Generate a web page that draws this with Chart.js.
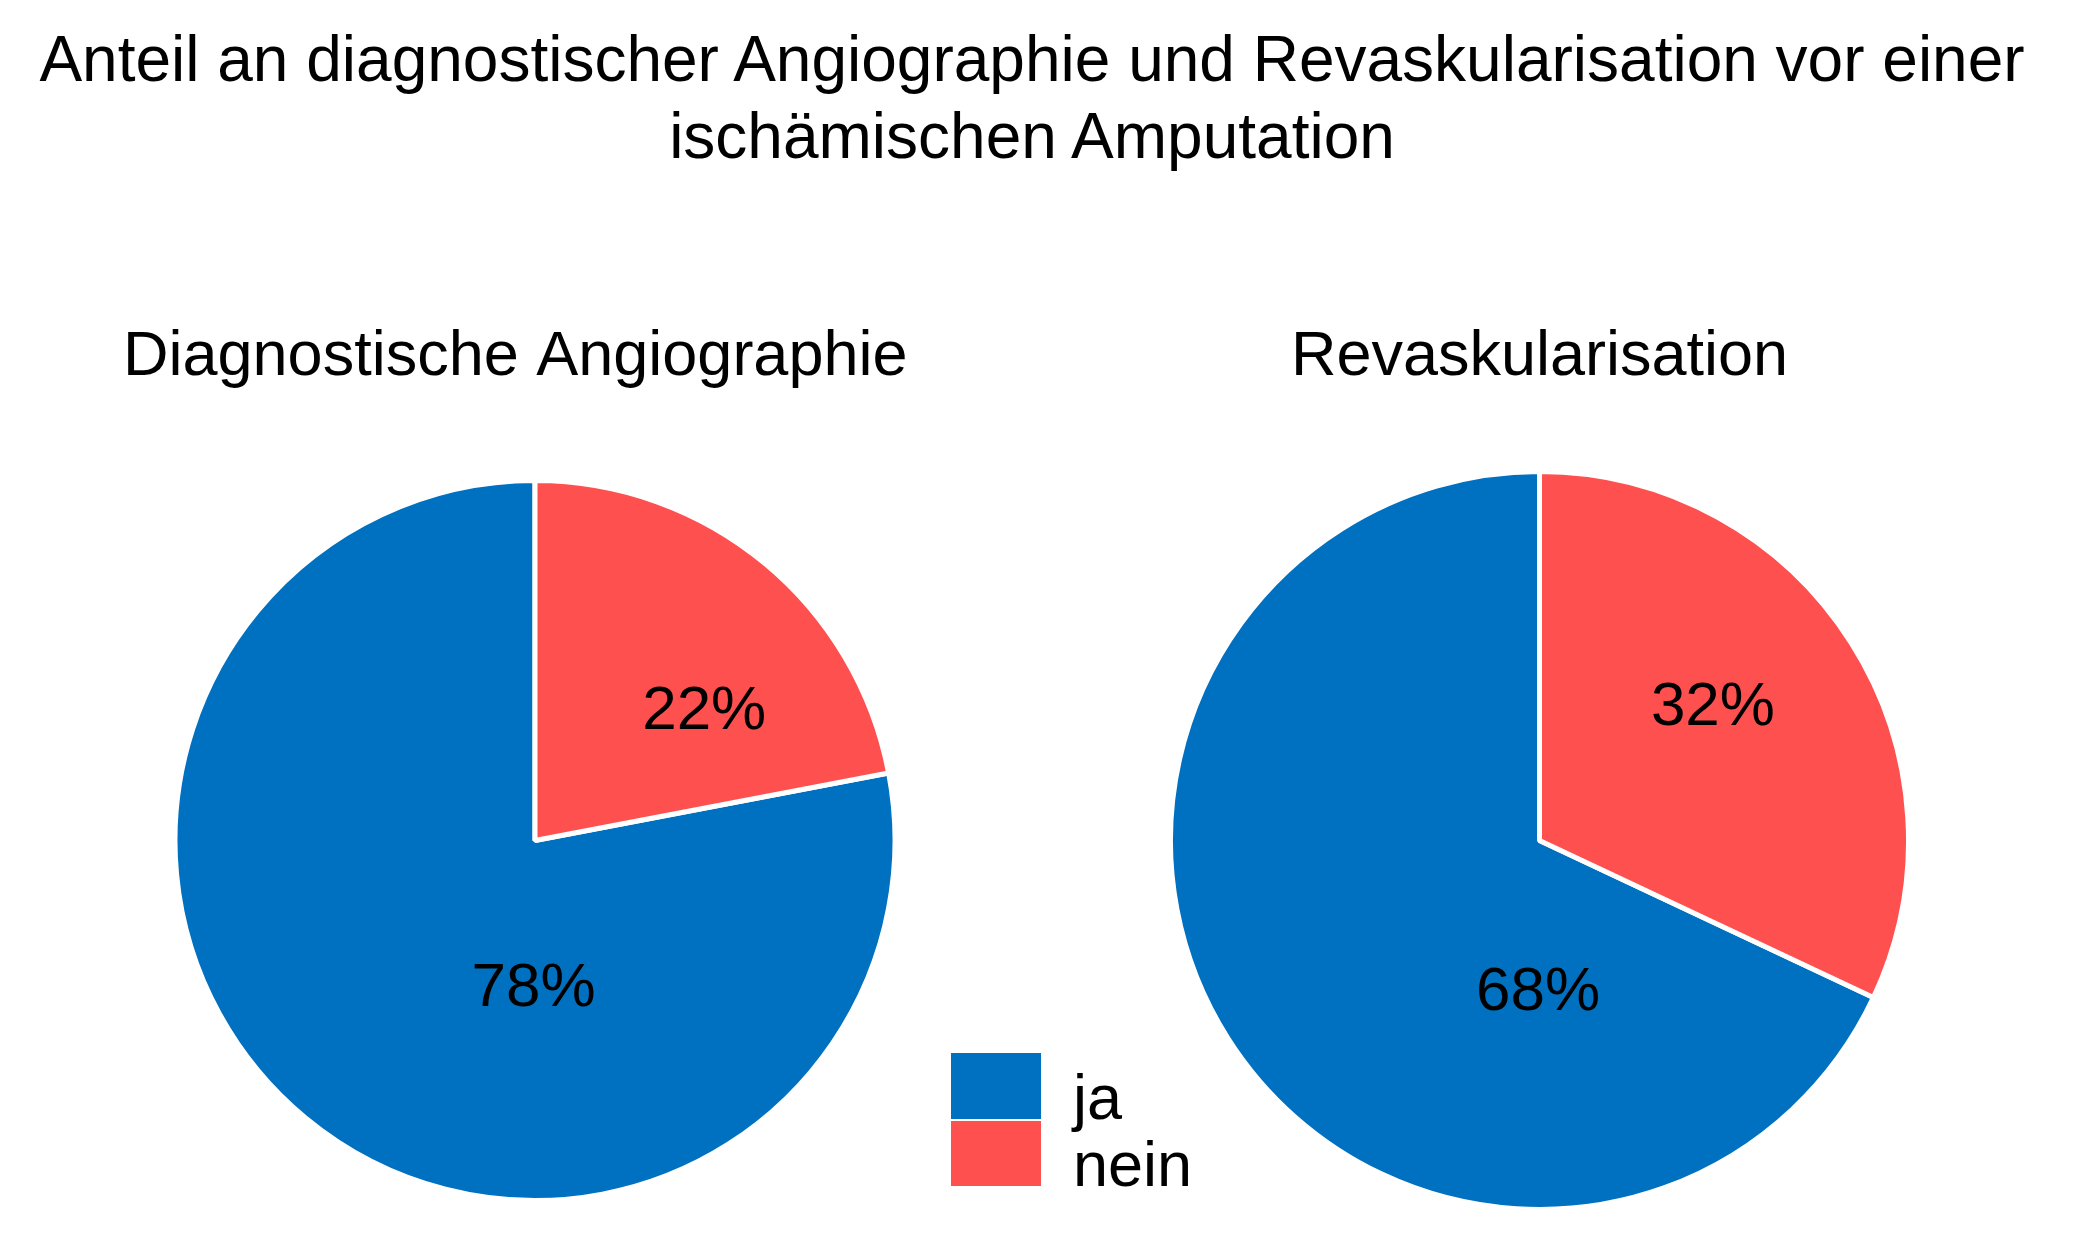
<!DOCTYPE html>
<html lang="de">
<head>
<meta charset="utf-8">
<title>Anteil an diagnostischer Angiographie und Revaskularisation</title>
<script src="https://cdn.jsdelivr.net/npm/chart.js@4/dist/chart.umd.min.js"></script>
<style>
  html, body { margin: 0; padding: 0; background: #ffffff; }
  body { width: 2080px; height: 1260px; position: relative; overflow: hidden;
         font-family: "Liberation Sans", Arial, sans-serif; color: #000; }
  #mainTitle { position: absolute; left: 0; top: 21px; width: 2064px; text-align: center;
               font-size: 64px; line-height: 76.8px; white-space: nowrap; }
  canvas { position: absolute; }
  #legend { position: absolute; left: 951px; top: 1053px; }
  .lgBox { position: absolute; left: 0; width: 90px; }
  .lgText { position: absolute; left: 122px; font-size: 63px; line-height: 63px; white-space: nowrap; }
</style>
</head>
<body>
<div id="mainTitle"></div>
<canvas id="chartAngio" width="824" height="933" style="left:123px;top:270px;width:824px;height:933px"></canvas>
<canvas id="chartRevask" width="743" height="942" style="left:1168px;top:270px;width:743px;height:942px"></canvas>
<div id="legend"></div>
<script>
// ---- data ----
const mainTitleLines = ['Anteil an diagnostischer Angiographie und Revaskularisation vor einer', 'ischämischen Amputation'];
const categories = ['ja', 'nein'];
const angioTitle = 'Diagnostische Angiographie';
const angioValues = [78, 22];
const revaskTitle = 'Revaskularisation';
const revaskValues = [68, 32];
const sliceColors = ['#0070C0', '#FF5050'];

// ---- main title ----
const mt = document.getElementById('mainTitle');
mainTitleLines.forEach(function (line) {
  const d = document.createElement('div');
  d.textContent = line;
  mt.appendChild(d);
});

// ---- legend ----
const lg = document.getElementById('legend');
const rowH = 66.5;
categories.forEach(function (cat, i) {
  const b = document.createElement('div');
  b.className = 'lgBox';
  b.style.top = (i * rowH + (i > 0 ? 1 : 0)) + 'px';
  b.style.height = (rowH - 1) + 'px';
  b.style.background = sliceColors[i];
  lg.appendChild(b);
  const t = document.createElement('div');
  t.className = 'lgText';
  t.style.top = (i * rowH + 13.2) + 'px';
  t.textContent = cat;
  lg.appendChild(t);
});

// ---- percentage labels plugin ----
const labelDirs = [ {dx: -0.004, dy: 0.412}, {dx: 0.47, dy: -0.358} ];
const pctLabels = {
  id: 'pctLabels',
  afterDatasetsDraw: function (chart) {
    const ctx = chart.ctx;
    const meta = chart.getDatasetMeta(0);
    const vals = chart.data.datasets[0].data;
    ctx.save();
    ctx.font = '62px "Liberation Sans", Arial, sans-serif';
    ctx.fillStyle = '#000000';
    ctx.textAlign = 'center';
    ctx.textBaseline = 'middle';
    meta.data.forEach(function (arc, i) {
      const p = arc.getProps(['x', 'y', 'outerRadius'], true);
      const x = p.x + labelDirs[i].dx * p.outerRadius;
      const y = p.y + labelDirs[i].dy * p.outerRadius;
      ctx.fillText(vals[i] + '%', x, y);
    });
    ctx.restore();
  }
};

Chart.defaults.font.family = '"Liberation Sans", Arial, sans-serif';

function makePie(id, title, values, align, padBottom) {
  const total = values.reduce(function (a, b) { return a + b; }, 0);
  return new Chart(document.getElementById(id), {
    type: 'pie',
    data: {
      labels: categories,
      datasets: [{
        data: values,
        backgroundColor: sliceColors,
        borderColor: '#FFFFFF',
        borderWidth: 5,
        hoverBorderWidth: 5,
        hoverOffset: 0,
        offset: 0
      }]
    },
    options: {
      responsive: false,
      animation: false,
      events: [],
      rotation: values[1] / total * 360,
      layout: { padding: 0 },
      plugins: {
        legend: { display: false },
        tooltip: { enabled: false },
        title: {
          display: true,
          text: title,
          align: align,
          color: '#000000',
          font: { size: 63, weight: 'normal', lineHeight: 1.2 },
          padding: { top: 50, bottom: padBottom }
        }
      }
    },
    plugins: [pctLabels]
  });
}

makePie('chartAngio', angioTitle, angioValues, 'start', 82.4);
makePie('chartRevask', revaskTitle, revaskValues, 'center', 73.4);
</script>
</body>
</html>
